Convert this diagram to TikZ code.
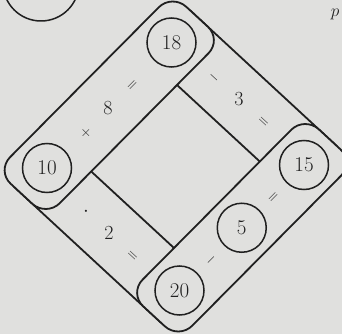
\documentclass[tikz,border=0pt]{standalone}
\usetikzlibrary{calc}
\definecolor{paper}{RGB}{224,224,222}
\definecolor{ink}{RGB}{32,32,32}
\tikzset{
  stad/.style={draw=ink, line width=1.8pt, fill=paper, rounded corners=19pt, line join=round},
  numc/.style={circle, draw=ink, line width=1.5pt, minimum size=49pt, inner sep=0pt, text=ink, font=\fontsize{21}{21}\selectfont},
  numt/.style={text=ink, inner sep=0pt, font=\fontsize{20}{20}\selectfont},
  opsym/.style={text=ink, inner sep=0pt, font=\fontsize{14}{14}\selectfont},
}
\begin{document}
\begin{tikzpicture}[x=1pt,y=-1pt]
\fill[paper] (0,0) rectangle (342,334);
\useasboundingbox (0,0) rectangle (342,334);
\clip (0,0) rectangle (342,334);
% frame: 18 at origin, u towards 15, v towards 10
\begin{scope}[shift={(171.5pt,-42.5pt)}, x={(132.5pt,-122.5pt)}, y={(-124.5pt,-125.5pt)}]
  % top-right band (18 - 15), behind
  \coordinate (trA) at (0.5,-0.205);
  \coordinate (tr1) at (1.15,-0.205);
  \coordinate (tr2) at (1.15,0.1555);
  \coordinate (tr3) at (-0.15,0.1555);
  \coordinate (tr4) at (-0.15,-0.205);
  % bottom-left band (10 - 20), behind
  \coordinate (blA) at (0.5,1.205);
  \coordinate (bl1) at (-0.15,1.205);
  \coordinate (bl2) at (-0.15,0.8445);
  \coordinate (bl3) at (1.15,0.8445);
  \coordinate (bl4) at (1.15,1.205);
  % top-left band (10 - 18)
  \coordinate (tlA) at (-0.1876,0.5);
  \coordinate (tl1) at (-0.1876,-0.205);
  \coordinate (tl2) at (0.1876,-0.205);
  \coordinate (tl3) at (0.1876,1.205);
  \coordinate (tl4) at (-0.1876,1.205);
  % bottom-right band (15 - 20)
  \coordinate (brA) at (1.1876,0.5);
  \coordinate (br1) at (1.1876,-0.205);
  \coordinate (br2) at (0.8124,-0.205);
  \coordinate (br3) at (0.8124,1.205);
  \coordinate (br4) at (1.1876,1.205);
  % circle centres
  \coordinate (p18) at (0,0);
  \coordinate (p15) at (1,0);
  \coordinate (p10) at (0,1);
  \coordinate (p20) at (1,1);
  \coordinate (p5) at (1,0.5);
\end{scope}
\path[stad] (trA) -- (tr1) -- (tr2) -- (tr3) -- (tr4) -- cycle;
\path[stad] (blA) -- (bl1) -- (bl2) -- (bl3) -- (bl4) -- cycle;
\path[stad] (tlA) -- (tl1) -- (tl2) -- (tl3) -- (tl4) -- cycle;
\path[stad] (brA) -- (br1) -- (br2) -- (br3) -- (br4) -- cycle;
% circles
\node[numc] (n18) at (p18) {18};
\node[numc] (n15) at (p15) {15};
\node[numc] (n10) at (p10) {10};
\node[numc] (n20) at (p20) {20};
\node[numc] (n5) at (p5) {5};
% operands and operators
\node[numt] (t8) at (108,108) {8};
\node[numt] (t3) at (239,99) {3};
\node[numt] (t2) at (109,233) {2};
\node[opsym, rotate=45.2] (oplus) at (86,133) {$+$};
\node[opsym, rotate=45.2] (oeq1) at (133,86) {$=$};
\node[opsym, rotate=-42.8] (omin1) at (214,78) {$-$};
\node[opsym, rotate=-42.8] (oeq2) at (263,122) {$=$};
\node[opsym, font=\fontsize{20}{20}\selectfont] (odot) at (86,212) {$\cdot$};
\node[opsym, rotate=-42.8] (oeq3) at (132,256) {$=$};
\node[opsym, rotate=45.2] (omin2) at (211,260) {$-$};
\node[opsym, rotate=45.2] (oeq4) at (274,198) {$=$};
% fragments at the edges
\draw[ink, line width=1.5pt] (41,-17) circle[radius=38pt];
\node[text=ink, inner sep=0pt, font=\fontsize{16}{16}\selectfont] (pp) at (335,14) {$p$};
\end{tikzpicture}
\end{document}
